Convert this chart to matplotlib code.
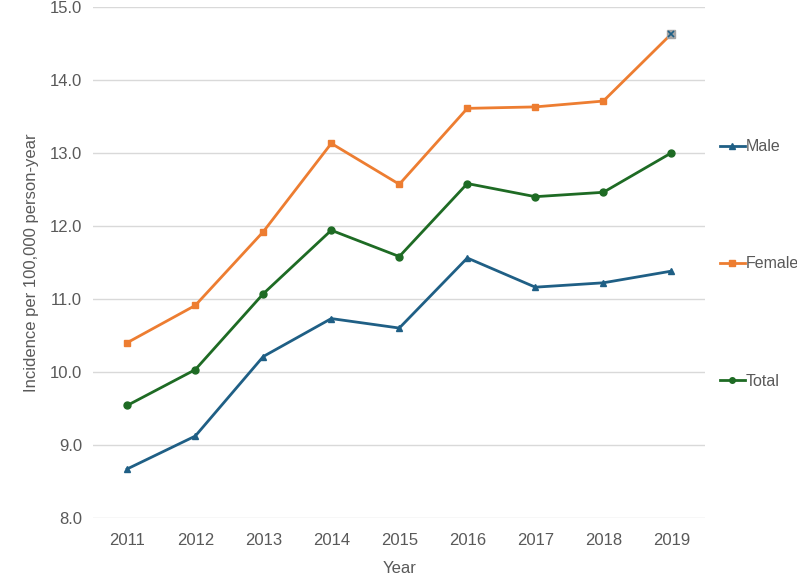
import matplotlib
matplotlib.use("Agg")
import matplotlib.pyplot as plt

years = [2011, 2012, 2013, 2014, 2015, 2016, 2017, 2018, 2019]
male = [8.67, 9.12, 10.21, 10.73, 10.60, 11.56, 11.16, 11.22, 11.38]
female = [10.40, 10.91, 11.92, 13.13, 12.57, 13.61, 13.63, 13.71, 14.63]
total = [9.54, 10.03, 11.07, 11.94, 11.58, 12.58, 12.40, 12.46, 13.00]

text_col = '#595959'
fs = 12
plt.rcParams['font.family'] = ['Liberation Sans', 'DejaVu Sans']

fig = plt.figure(figsize=(7.97, 5.76), dpi=100)
ax = fig.add_axes([0.117, 0.101, 0.768, 0.887])

ax.plot(years, male, color='#1f5f85', lw=2, marker='^', ms=5, label='Male')
ax.plot(years, female, color='#ed7d31', lw=2, marker='s', ms=5, label='Female')
ax.plot(years, total, color='#1e6b24', lw=2, marker='o', ms=5, label='Total')
# odd last marker on the female series
ax.plot(years[-1], female[-1], marker='s', ms=6, color='#a5a5a5', zorder=4)
ax.plot(years[-1], female[-1], marker='x', ms=5, mew=1.2, color='#1f5f85', zorder=5)

ax.set_xlim(2010.5, 2019.5)
ax.set_ylim(8, 15)
ax.set_xticks(years)
ax.set_yticks([8, 9, 10, 11, 12, 13, 14, 15])
ax.set_yticklabels([f'{v:.1f}' for v in range(8, 16)])
ax.grid(axis='y', color='#d9d9d9', lw=1)
ax.set_axisbelow(True)
for s in ax.spines.values():
    s.set_visible(False)
ax.tick_params(axis='y', length=0, labelsize=fs, colors=text_col, pad=8)
ax.tick_params(axis='x', length=0, labelsize=fs, colors=text_col, pad=11)
ax.set_xlabel('Year', fontsize=fs, color=text_col, labelpad=9)
ax.set_ylabel('Incidence per 100,000 person-year', fontsize=fs, color=text_col, labelpad=8)

leg = fig.legend(loc='center left', bbox_to_anchor=(0.893, 1 - 264 / 576), frameon=False,
                 labelspacing=6.4, handlelength=1.6, handletextpad=0.0, fontsize=11.5,
                 borderpad=0, markerscale=0.8)
for t in leg.get_texts():
    t.set_color(text_col)

fig.savefig('out.png', dpi=100)
